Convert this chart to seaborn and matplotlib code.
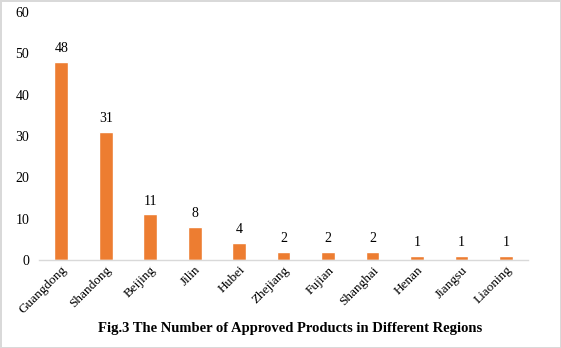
import matplotlib
matplotlib.use("Agg")
import matplotlib.pyplot as plt
import seaborn as sns
import pandas as pd

regions = ["Guangdong", "Shandong", "Beijing", "Jilin", "Hubei", "Zhejiang",
           "Fujian", "Shanghai", "Henan", "Jiangsu", "Liaoning"]
counts = [48, 31, 11, 8, 4, 2, 2, 2, 1, 1, 1]
yticks = [0, 10, 20, 30, 40, 50, 60]
title = "Fig.3 The Number of Approved Products in Different Regions"

sns.set_theme(style="white")
plt.rcParams["font.family"] = ["Liberation Serif", "DejaVu Serif"]

df = pd.DataFrame({"region": regions, "count": counts})

fig = plt.figure(figsize=(5.61, 3.48), dpi=100)
fig.patch.set_edgecolor("#d9d9d9")
fig.patch.set_linewidth(2)
ax = fig.add_axes([0.0695, 0.253, 0.872, 0.7125])

sns.barplot(data=df, x="region", y="count", color="#ED7D31", width=0.31,
            saturation=1, ax=ax)
for c in ax.containers:
    ax.bar_label(c, padding=5, fontsize=10, color="#000000")

ax.set_ylim(0, 60)
ax.set_yticks(yticks)
ax.set_xlim(-0.5, len(regions) - 0.5)
ax.set_xlabel("")
ax.set_ylabel("")
for s in ["top", "right", "left"]:
    ax.spines[s].set_visible(False)
ax.spines["bottom"].set_color("#d9d9d9")
ax.spines["bottom"].set_linewidth(1)
ax.tick_params(axis="y", length=0, labelsize=10, pad=7, labelcolor="#000000")
ax.tick_params(axis="x", length=0, labelsize=9.5, pad=3, labelcolor="#000000")
plt.setp(ax.get_xticklabels(), rotation=45, ha="right", rotation_mode="anchor")

fig.text(0.517, 0.057, title, ha="center", va="center", fontsize=10.5,
         fontweight="bold", color="#000000")

fig.savefig("out.png", dpi=100)
